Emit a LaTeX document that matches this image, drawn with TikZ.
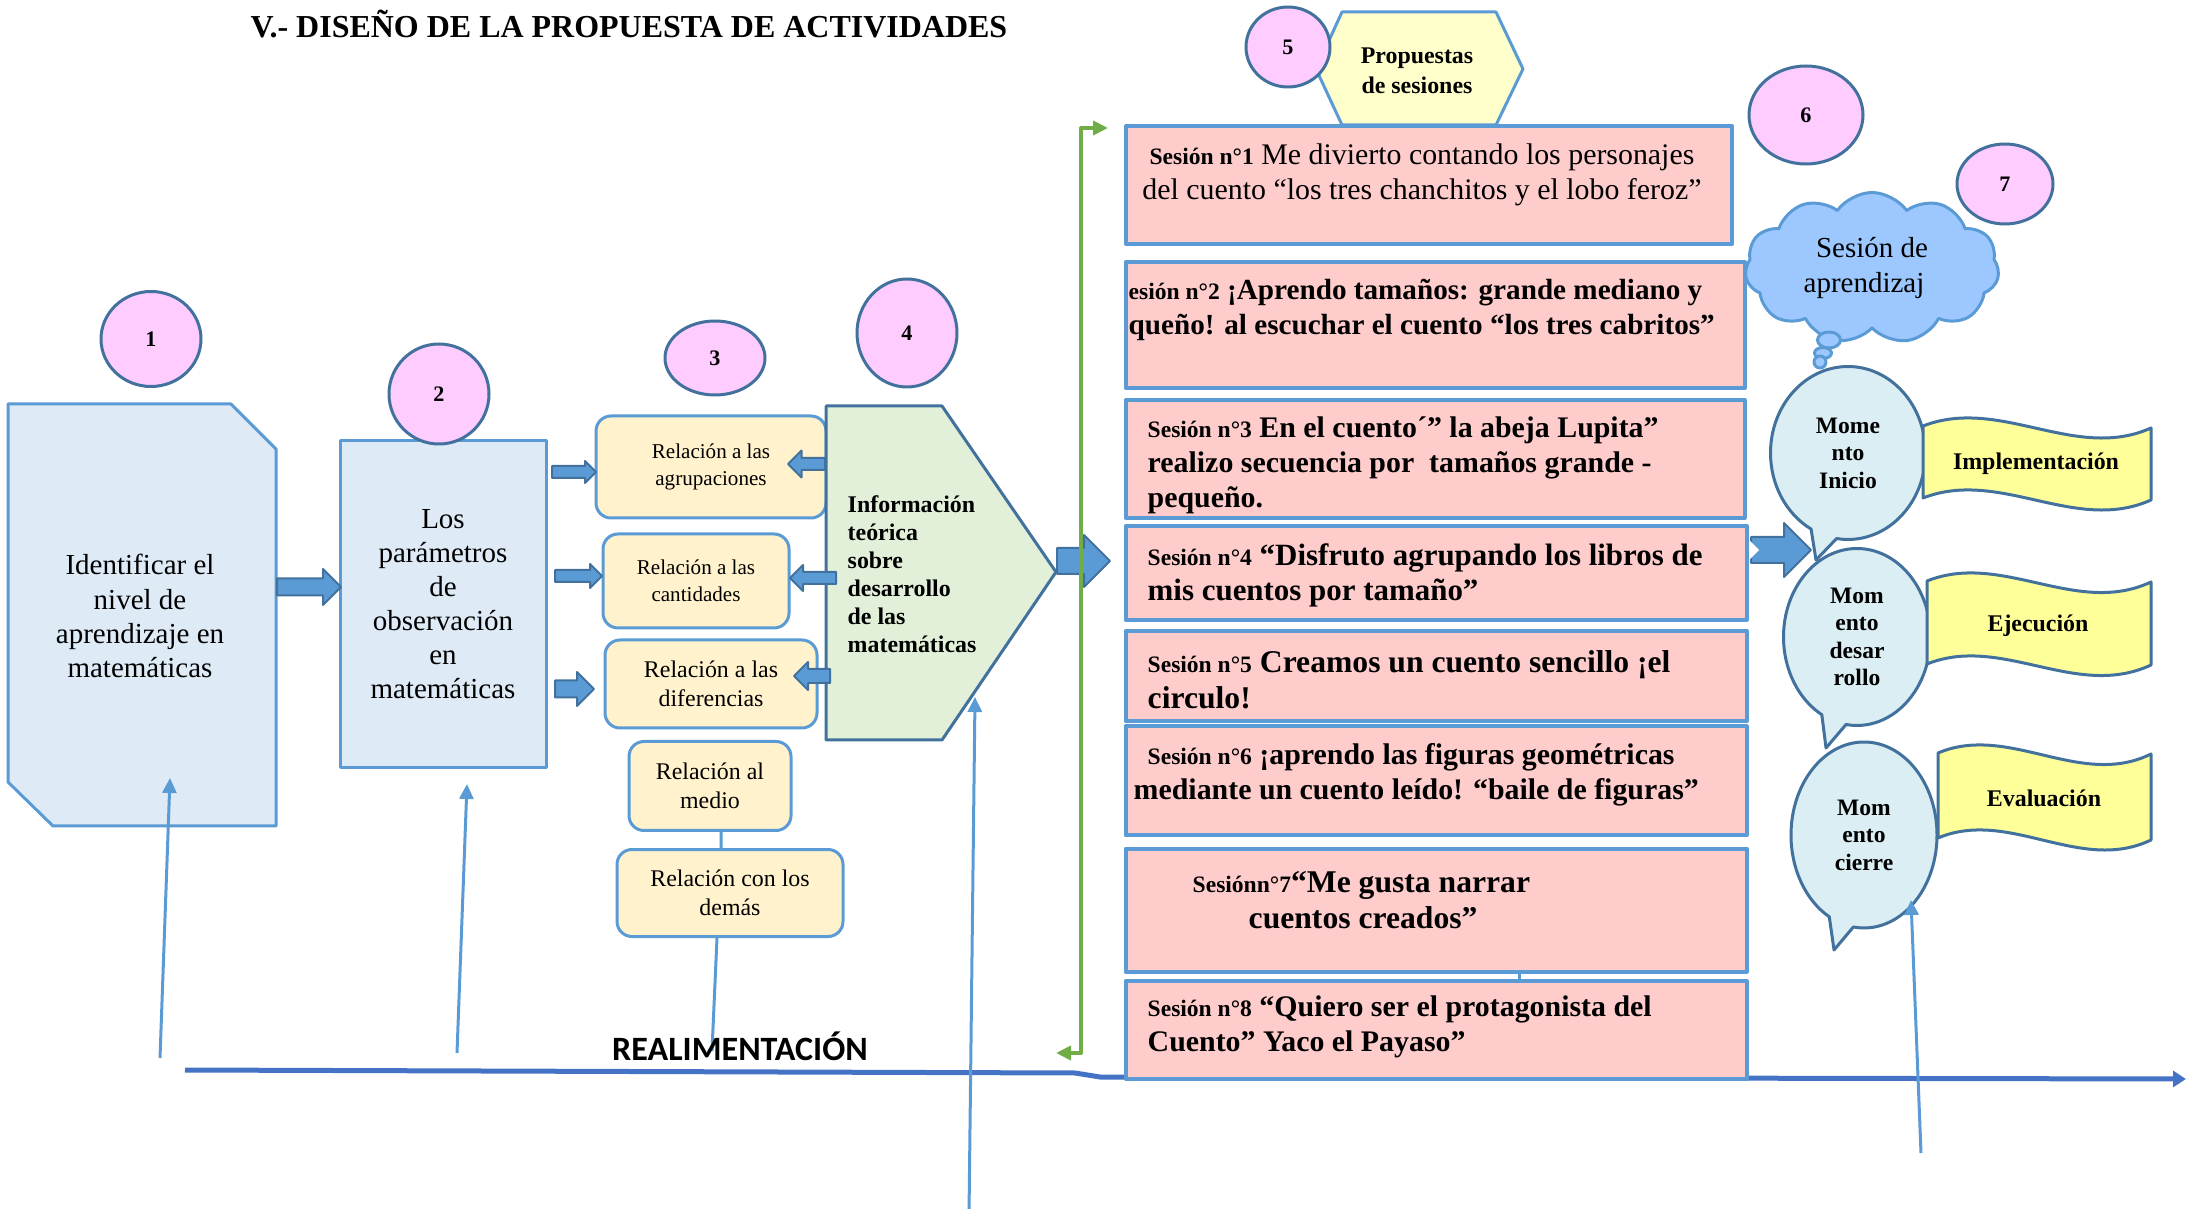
\documentclass[tikz,border=0pt]{standalone}
\usepackage{fontspec}
\setmainfont{Liberation Serif}
\newfontfamily\calfont{Carlito}
\usepackage{tikz}
\usetikzlibrary{positioning, arrows.meta, calc, shapes.geometric, shapes.arrows, shapes.symbols, shapes.callouts}
\definecolor{bordlight}{HTML}{5B9BD5}
\definecolor{borddark}{HTML}{41719C}
\definecolor{linedark}{HTML}{4472C4}
\definecolor{greenln}{HTML}{70AD47}
\definecolor{paleblue}{HTML}{DEEBF7}
\definecolor{palecream}{HTML}{FFF2CC}
\definecolor{palegreen}{HTML}{E2F0D9}
\definecolor{rosa}{HTML}{FFCCCC}
\definecolor{lila}{HTML}{FFCCFF}
\definecolor{amarillo}{HTML}{FFFF99}
\definecolor{crema}{HTML}{FFFFCC}
\definecolor{celeste}{HTML}{DAEEF3}
\definecolor{nube}{HTML}{9DC8FF}
\newcommand\snum[1]{{\fontsize{6.7}{10}\selectfont #1}}

\begin{document}
\begin{tikzpicture}[x=0.1mm, y=-0.1mm, line join=round,
    circ/.style={ellipse, draw=borddark, fill=lila, line width=0.3mm, inner sep=0pt, font=\fontsize{6.3}{7}\selectfont\bfseries},
    bloque/.style={draw=bordlight, fill=paleblue, line width=0.3mm},
    relbox/.style={rectangle, rounded corners=1.5mm, draw=bordlight, fill=palecream, line width=0.3mm, inner sep=0pt, align=center, font=\fontsize{6.8}{8.3}\selectfont},
    barrow/.style 2 args={single arrow, draw=borddark, fill=bordlight, line width=0.2mm, inner xsep=0pt, inner ysep=#1, single arrow head extend=#2, minimum width=0pt, anchor=tail},
    sess/.style={rectangle, draw=bordlight, fill=rosa, line width=0.4mm, inner sep=0pt},
    stext/.style={anchor=west, align=left, inner sep=0pt, font=\fontsize{8.5}{10}\selectfont\bfseries},
    bubble/.style={ellipse callout, callout pointer arc=20, draw=borddark, fill=celeste, line width=0.3mm, inner sep=0pt, align=center, font=\fontsize{6.7}{7.8}\selectfont\bfseries},
    banner/.style={draw=borddark, fill=amarillo, line width=0.3mm},
    bannertext/.style={inner sep=0pt, font=\fontsize{6.8}{8}\selectfont\bfseries},
    feed/.style={draw=bordlight, line width=0.3mm, -{Triangle[length=1.5mm, width=1.4mm]}},
    ]
    \useasboundingbox (0,0) rectangle (2188,1209);

    \node[font=\fontsize{9.1}{11}\selectfont\bfseries] (title) at (629,24) {V.- DISEÑO DE LA PROPUESTA DE ACTIVIDADES};

    % realimentacion
    \coordinate (r0) at (185,1070);
    \coordinate (r1) at (2186,1079);
    \draw[draw=linedark, line width=0.5mm, -{Triangle[length=1.3mm, width=1.6mm]}] (r0) -- (1075,1073) -- (1100,1077) -- (r1);

    % bloques de la izquierda
    \draw[bloque] (8,404) -- (231,404) -- (276,449) -- (276,826) -- (53,826) -- (8,782) -- cycle;
    \node[align=center, font=\fontsize{8.25}{9.7}\selectfont] (ident) at (140,616) {Identificar el\\nivel de\\aprendizaje en\\matemáticas};
    \node[bloque, minimum width=20.6mm, minimum height=32.7mm, inner sep=0pt, align=center, font=\fontsize{8.25}{9.7}\selectfont] (obs) at (443,604) {Los\\parámetros\\de\\observación\\en\\matemáticas};

    \node[relbox, minimum width=23mm, minimum height=10.2mm, font=\fontsize{6}{7.7}\selectfont] (agr) at (711,467) {Relación a las\\agrupaciones};
    \node[relbox, minimum width=18.6mm, minimum height=9.4mm, font=\fontsize{6}{7.7}\selectfont] (can) at (696,581) {Relación a las\\cantidades};
    \node[relbox, minimum width=21.2mm, minimum height=8.8mm] (dif) at (711,684) {Relación a las\\diferencias};
    \node[relbox, minimum width=16.2mm, minimum height=8.9mm] (med) at (710,786) {Relación al\\medio};
    \node[relbox, minimum width=22.6mm, minimum height=8.7mm] (dem) at (730,893) {Relación con los\\demás};
    \coordinate (rtop) at (712,1051);
    \draw[draw=bordlight, line width=0.3mm] ([xshift=1.1mm]med.south) -- ([xshift=-0.9mm]dem.north);
    \draw[draw=bordlight, line width=0.3mm] ([xshift=-1.3mm]dem.south) -- (rtop);

    \draw[draw=borddark, fill=palegreen, line width=0.3mm] (826,406) -- (942,406) -- (1056,572) -- (942,740) -- (826,740) -- cycle;
    \node[anchor=west, align=left, inner sep=0pt, font=\fontsize{6.8}{8}\selectfont\bfseries] (info) at (847,574) {Información\\teórica\\sobre\\desarrollo\\de las\\matemáticas};

    \node[barrow={0.75mm}{0.95mm}, minimum height=6.4mm] (a12) at (276,587) {};
    \node[barrow={0.5mm}{0.5mm}, minimum height=4.4mm] (a2a) at (551,472) {};
    \node[barrow={0.5mm}{0.6mm}, minimum height=4.7mm] (a2c) at (554,576) {};
    \node[barrow={0.75mm}{0.85mm}, minimum height=3.9mm] (a2d) at (554,689) {};
    \node[barrow={0.5mm}{0.75mm}, minimum height=3.7mm, shape border rotate=180] (a4a) at (826,464) {};
    \node[barrow={0.5mm}{0.7mm}, minimum height=4.6mm, shape border rotate=180] (a4c) at (837,578) {};
    \node[barrow={0.6mm}{0.7mm}, minimum height=3.6mm, shape border rotate=180] (a4d) at (831,676) {};
    \node[barrow={1.2mm}{1.3mm}, minimum height=5.3mm] (a4s) at (1056,561) {};

    \node[circ, minimum width=10mm, minimum height=9.5mm] (n1) at (151,339) {1};
    \node[circ, minimum width=10mm, minimum height=10mm] (n2) at (439,394) {2};
    \node[circ, minimum width=10mm, minimum height=7.4mm] (n3) at (715,358) {3};
    \node[circ, minimum width=10mm, minimum height=10.8mm] (n4) at (907,333) {4};

    % sesiones
    \coordinate (gtop) at (1108,128);
    \coordinate (gbot) at (1056,1053);
    \draw[draw=greenln, line width=0.4mm, {Triangle[length=1.5mm, width=1.4mm]}-{Triangle[length=1.5mm, width=1.4mm]}] (gtop) -- (1081,128) -- (1081,1053) -- (gbot);

    \draw[draw=bordlight, fill=crema, line width=0.3mm] (1342,12) -- (1496,12) -- (1523,69) -- (1496,125) -- (1342,125) -- (1316,69) -- cycle;
    \node[align=center, inner sep=0pt, font=\fontsize{6.8}{8.5}\selectfont\bfseries] (prop) at (1417,71) {Propuestas\\de sesiones};
    \node[circ, minimum width=8.4mm, minimum height=8mm] (n5) at (1288,47) {5};

    \node[sess, minimum width=60.6mm, minimum height=11.8mm] (s1) at (1429,185) {};
    \node[sess, minimum width=61.9mm, minimum height=12.6mm] (s2) at (1435,325) {};
    \node[sess, minimum width=61.9mm, minimum height=11.8mm] (s3) at (1435,459) {};
    \node[sess, minimum width=62.1mm, minimum height=9.4mm] (s4) at (1436,573) {};
    \node[sess, minimum width=62.1mm, minimum height=9mm] (s5) at (1436,676) {};
    \node[sess, minimum width=62.1mm, minimum height=10.9mm] (s6) at (1436,781) {};
    \node[sess, minimum width=62.1mm, minimum height=12.3mm] (s7) at (1436,910) {};
    \node[sess, minimum width=62.1mm, minimum height=9.8mm] (s8) at (1436,1030) {};
    \draw[draw=bordlight, line width=0.3mm] ([xshift=8.3mm]s7.south) -- ([xshift=8.3mm]s8.north);

    \node[stext, anchor=center, align=center, font=\fontsize{8.5}{10}\selectfont] (s1t) at (1422,175) {\textbf{\snum{Sesión n°1}} Me divierto contando los personajes\\del cuento “los tres chanchitos y el lobo feroz”};
    \node[stext, font=\fontsize{8.3}{10}\selectfont\bfseries] (s2t) at (1128,310) {\snum{esión n°2} ¡Aprendo tamaños: grande mediano y\\queño! al escuchar el cuento “los tres cabritos”};
    \node[stext] (s3t) at (1147,465) {\snum{Sesión n°3} En el cuento´” la abeja Lupita”\\realizo secuencia por\ \ tamaños grande -\\pequeño.};
    \node[stext, font=\fontsize{8.8}{10}\selectfont\bfseries] (s4t) at (1147,575) {\snum{Sesión n°4} “Disfruto agrupando los libros de\\mis cuentos por tamaño”};
    \node[stext, font=\fontsize{9}{10.2}\selectfont\bfseries] (s5t) at (1147,680) {\snum{Sesión n°5} Creamos un cuento sencillo ¡el\\circulo!};
    \node[stext] (s6t) at (1133,775) {\hspace*{1.4mm}\snum{Sesión n°6} ¡aprendo las figuras geométricas\\mediante un cuento leído! “baile de figuras”};
    \node[stext, font=\fontsize{9}{10.2}\selectfont\bfseries] (s7t) at (1192,900) {\snum{Sesiónn°7}“Me gusta narrar\\\hspace*{5.6mm}cuentos creados”};
    \node[stext] (s8t) at (1147,1027) {\snum{Sesión n°8} “Quiero ser el protagonista del\\Cuento” Yaco el Payaso”};

    % momentos
    \node[circ, minimum width=11.4mm, minimum height=9.8mm] (n6) at (1806,115) {6};
    \node[cloud, cloud puffs=11, cloud puff arc=110, cloud ignores aspect, draw=bordlight, fill=nube, line width=0.3mm, minimum width=25.4mm, minimum height=15.1mm, inner sep=0pt, align=center, font=\fontsize{8.25}{10}\selectfont] (sa) at (1872,268) {Sesión de\\aprendizaj\hspace*{1.6mm}};
    \node[ellipse, draw=bordlight, fill=nube, line width=0.3mm, minimum width=2.3mm, minimum height=1.6mm, inner sep=0pt] (sb1) at (1829,340) {};
    \node[ellipse, draw=bordlight, fill=nube, line width=0.3mm, minimum width=1.7mm, minimum height=1.1mm, inner sep=0pt] (sb2) at (1823,353) {};
    \node[ellipse, draw=bordlight, fill=nube, line width=0.3mm, minimum width=1.2mm, minimum height=1.2mm, inner sep=0pt] (sb3) at (1820,362) {};
    \node[circ, minimum width=9.6mm, minimum height=8mm] (n7) at (2005,184) {7};

    \node[barrow={1.2mm}{1.4mm}, minimum height=6mm] (asm) at (1750,550) {};
    \fill[white] ($(asm.tail)+(0,-9)$) -- ($(asm.tail)+(9,0)$) -- ($(asm.tail)+(0,9)$) -- cycle;

    \node[bubble, minimum width=15.5mm, minimum height=17.3mm, callout absolute pointer={(1816,560)}] (mi) at (1848,453) {Mome\\nto\\Inicio};
    \node[bubble, minimum width=14.7mm, minimum height=17.7mm, callout absolute pointer={(1826,748)}] (md) at (1857,637) {Mom\\ento\\desar\\rollo};
    \node[bubble, minimum width=14.6mm, minimum height=18.6mm, callout absolute pointer={(1834,950)}] (mc) at (1864,835) {Mom\\ento\\cierre};

    \draw[banner] (1923,426) .. controls (2000,396) and (2075,462) .. (2151,428) -- (2151,500) .. controls (2075,534) and (2000,468) .. (1923,498) -- cycle;
    \draw[banner] (1927,581) .. controls (2002,551) and (2076,617) .. (2151,582) -- (2151,665) .. controls (2076,700) and (2002,634) .. (1927,664) -- cycle;
    \draw[banner] (1938,753) .. controls (2009,723) and (2080,789) .. (2151,754) -- (2151,840) .. controls (2080,874) and (2009,808) .. (1938,838) -- cycle;
    \node[bannertext] (imp) at (2036,464) {Implementación};
    \node[bannertext] (eje) at (2038,626) {Ejecución};
    \node[bannertext] (eva) at (2044,798) {Evaluación};

    % flechas de realimentacion
    \coordinate (u1a) at (160,1058);
    \coordinate (u1b) at (170,778);
    \coordinate (u2a) at (457,1053);
    \coordinate (u4a) at (969,1215);
    \coordinate (u4b) at (975,697);
    \coordinate (u7a) at (1921,1153);
    \coordinate (u7b) at (1911,900);
    \draw[feed] (u1a) -- (u1b);
    \draw[feed] (u2a) -- ([xshift=2.4mm, yshift=-1.5mm]obs.south);
    \draw[feed] (u4a) -- (u4b);
    \draw[feed] (u7a) -- (u7b);

    \node[font=\calfont\fontsize{9.7}{11}\selectfont\bfseries] (real) at (740,1046) {REALIMENTACIÓN};
    \node[font=\fontsize{8.5}{10}\selectfont] (pag) at (1108,1224) {40};
\end{tikzpicture}
\end{document}
